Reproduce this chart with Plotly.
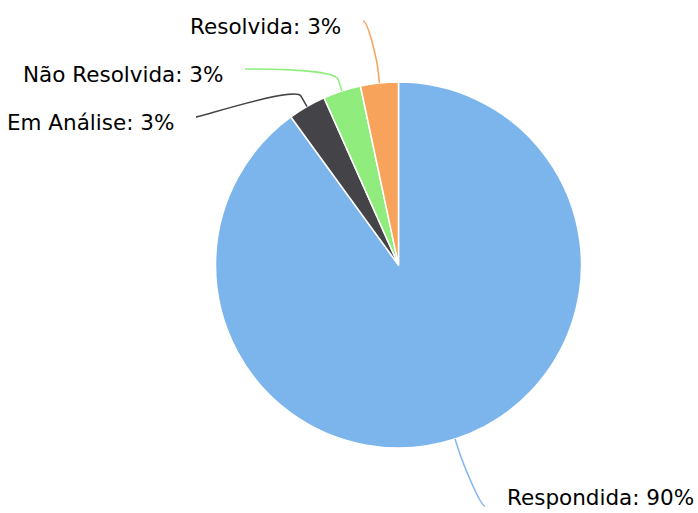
import math
import plotly.graph_objects as go

# ---- data ----
categories = ["Respondida", "Em Análise", "Não Resolvida", "Resolvida"]
values = [27, 1, 1, 1]
colors = ["#7cb5ec", "#434348", "#90ed7d", "#f7a35c"]

# ---- layout constants (pixels) ----
W, H = 698, 513
CX, CY, R = 398.5, 265, 183
# label-side end of each connector (pixels) and text side
label_ends = [(485, 506), (196, 117), (245, 69), (363, 21)]
label_text_dy = [-9, 6, 6, 6]
TEXT_GAP = 20
BREAK_D = 12

dom_x = [(CX - R) / W, (CX + R) / W]
dom_y = [1 - (CY + R) / H, 1 - (CY - R) / H]

fig = go.Figure(go.Pie(
    labels=categories, values=values, sort=False, direction="clockwise",
    rotation=0, marker=dict(colors=colors, line=dict(color="#ffffff", width=1.5)),
    textinfo="none", hoverinfo="label+percent", showlegend=False,
    domain=dict(x=dom_x, y=dom_y),
))

def px(x):
    return x / W

def py(y):
    return 1 - y / H

total = sum(values)
cum = 0
shapes = []
annotations = []
for i, (cat, v) in enumerate(zip(categories, values)):
    mid = (cum + v / 2) / total * 2 * math.pi
    cum += v
    ux, uy = math.sin(mid), -math.cos(mid)
    ex, ey = CX + R * ux, CY + R * uy
    bx, by = ex + BREAK_D * ux, ey + BREAK_D * uy
    ax, ay = label_ends[i]
    left = ax < CX
    c1x = ax + (5 if left else -5)
    c2x, c2y = 2 * bx - ex, 2 * by - ey
    path = (f"M {px(ax)},{py(ay)} C {px(c1x)},{py(ay)} {px(c2x)},{py(c2y)} "
            f"{px(bx)},{py(by)} L {px(ex)},{py(ey)}")
    shapes.append(dict(type="path", path=path, xref="paper", yref="paper",
                       line=dict(color=colors[i], width=1.5)))
    pct = round(v / total * 100)
    tx = ax - TEXT_GAP if left else ax + TEXT_GAP
    annotations.append(dict(
        text=f"{cat}: {pct}%", x=px(tx), y=py(ay + label_text_dy[i]),
        xref="paper", yref="paper", xanchor="right" if left else "left",
        yanchor="middle", showarrow=False,
        font=dict(family="DejaVu Sans", size=21.5, color="#000000"),
    ))

fig.update_layout(
    width=W, height=H, margin=dict(l=0, r=0, t=0, b=0),
    paper_bgcolor="#ffffff", plot_bgcolor="#ffffff",
    shapes=shapes, annotations=annotations,
)

fig.write_html("out.html", config={"displayModeBar": False},
               post_script="document.body.style.margin='0';document.body.style.overflow='hidden';")
